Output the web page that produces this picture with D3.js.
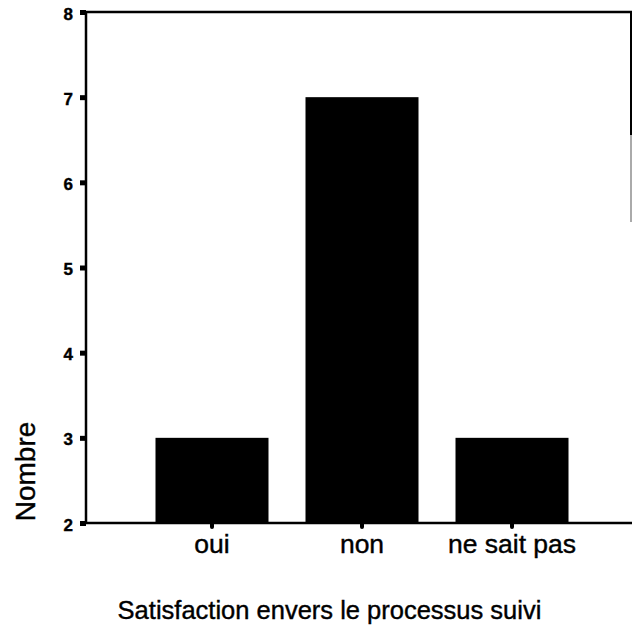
<!DOCTYPE html>
<html><head><meta charset="utf-8">
<script src="https://cdn.jsdelivr.net/npm/d3@7"></script>
<style>body{margin:0;background:#fff}svg{display:block}text{font-family:"Liberation Sans",Arial,Helvetica,sans-serif;fill:#000;stroke:#000;stroke-width:0.4px}</style>
</head><body>
<svg id="c" width="632" height="626"></svg>
<script>
const categories = ["oui", "non", "ne sait pas"];
const counts = [3, 7, 3];
const yTicks = [2, 3, 4, 5, 6, 7, 8];
const xTitle = "Satisfaction envers le processus suivi";
const yTitle = "Nombre";

(function () {
const svg = d3.select("#c");
const pL = 86, pR = 631, pT = 12, pB = 523;
const y = d3.scaleLinear().domain([2, 8]).range([pB, pT]);
const x = d3.scaleBand().domain(categories).range([92, 632]).paddingInner(0.2467).paddingOuter(0.4233);

// bars
svg.selectAll("rect.bar").data(counts).join("rect")
  .attr("class", "bar")
  .attr("x", (d, i) => x(categories[i]))
  .attr("width", x.bandwidth())
  .attr("y", d => y(d))
  .attr("height", d => y(2) - y(d))
  .attr("fill", "#000");

// frame: top and right
svg.append("line").attr("x1", pL).attr("x2", pR + 1).attr("y1", pT).attr("y2", pT).attr("stroke", "#000").attr("stroke-width", 2.5);
svg.append("line").attr("x1", pR).attr("x2", pR).attr("y1", pT).attr("y2", 135).attr("stroke", "#000").attr("stroke-width", 2);
svg.append("line").attr("x1", pR).attr("x2", pR).attr("y1", 135).attr("y2", 222).attr("stroke", "#aaa").attr("stroke-width", 2);

// y axis
const ya = svg.append("g").attr("transform", `translate(${pL},0)`)
  .call(d3.axisLeft(y).tickValues(yTicks).tickFormat(d3.format("d")).tickSize(6).tickPadding(7));
ya.select(".domain").attr("stroke", "#000").attr("stroke-width", 2.5).attr("d", `M0,${pT}V${pB}`);
ya.selectAll(".tick line").attr("stroke", "#000").attr("stroke-width", 5);
ya.selectAll(".tick text").attr("font-size", 17).attr("font-weight", "bold").attr("dy", "0.42em");

// x axis
const xa = svg.append("g").attr("transform", `translate(0,${pB})`)
  .call(d3.axisBottom(x).tickSize(4).tickPadding(7));
xa.select(".domain").attr("stroke", "#000").attr("stroke-width", 2.5).attr("d", `M${pL},0H${pR + 1}`);
xa.selectAll(".tick line").attr("stroke", "#000").attr("stroke-width", 4).attr("stroke-linecap", "round");
xa.selectAll(".tick text").attr("font-size", 26.5);

// titles
svg.append("text").attr("x", 329.5).attr("y", 619).attr("text-anchor", "middle").attr("font-size", 25.5).text(xTitle);
svg.append("text").attr("transform", "translate(35,471.5) rotate(-90)").attr("text-anchor", "middle").attr("font-size", 28).text(yTitle);
})();
</script>
</body></html>
